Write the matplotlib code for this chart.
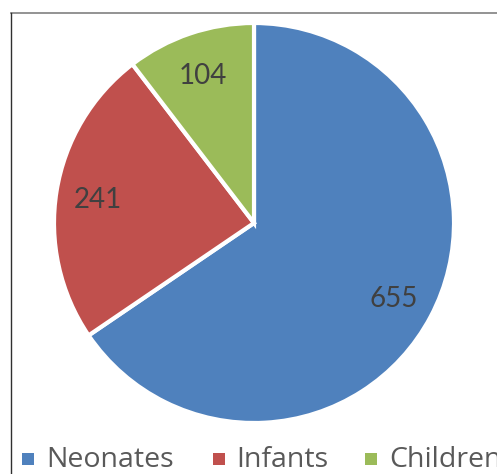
import matplotlib
matplotlib.use("Agg")
import matplotlib.pyplot as plt
from matplotlib.lines import Line2D
from matplotlib.patches import Rectangle

categories = ["Neonates", "Infants", "Children"]
values = [655, 241, 104]
colors = ["#4F81BD", "#C0504D", "#9BBB59"]

W, H = 497, 474
fig = plt.figure(figsize=(W / 100, H / 100), dpi=100)
fig.patch.set_facecolor("white")

# axes: pie circle centre (254, 223) px, radius 200 px
cx, cy, r = 254, 223, 200
ax = fig.add_axes([(cx - r) / W, (H - cy - r) / H, 2 * r / W, 2 * r / H])
ax.axis("off")

total = sum(values)
wedges, texts, autotexts = ax.pie(
    values, colors=colors, startangle=90, counterclock=False, radius=1,
    autopct=lambda p: f"{round(p * total / 100)}", pctdistance=0.79,
    wedgeprops=dict(edgecolor="white", linewidth=3),
    textprops=dict(fontsize=20, color="#404040", family="Lato"),
    frame=False)
for t in autotexts:
    t.set_va("center_baseline")
ax.set_xlim(-1, 1)
ax.set_ylim(-1, 1)
ax.set_aspect("auto")

# frame lines (top and left, image is cropped)
fig.add_artist(Line2D([11 / W, 1], [1 - 12.5 / H, 1 - 12.5 / H], color="#808080", lw=1.2, transform=fig.transFigure))
fig.add_artist(Line2D([11 / W, 11 / W], [0, 1 - 12.5 / H], color="#303030", lw=1.0, transform=fig.transFigure))

# legend, manual layout
sq_x = [22, 213, 365]
txt_x = [46, 236, 389]
sq = 11.5
sq_top = 453
for i, name in enumerate(categories):
    fig.add_artist(Rectangle((sq_x[i] / W, 1 - (sq_top + sq) / H), sq / W, sq / H,
                             facecolor=colors[i], edgecolor="none", transform=fig.transFigure))
    fig.text(txt_x[i] / W, 1 - 467 / H, name, fontsize=20.5, color="#595959",
             family="Open Sans", va="baseline", ha="left")

fig.savefig("out.png", dpi=100)
